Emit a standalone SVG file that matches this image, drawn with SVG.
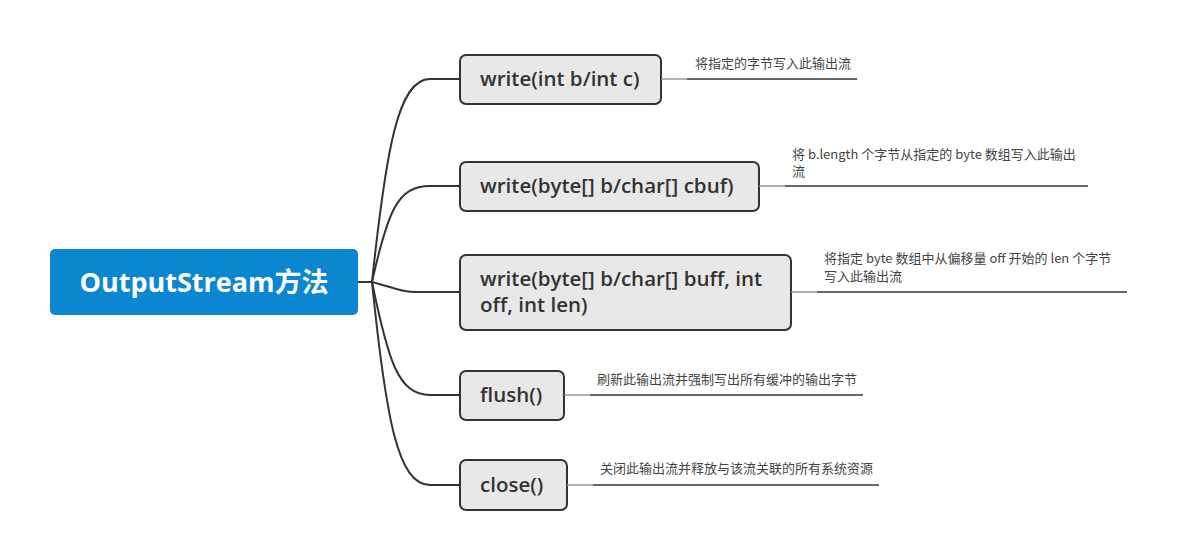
<svg xmlns="http://www.w3.org/2000/svg" width="1177" height="560" viewBox="0 0 1177 560">
<style>
.node rect{fill:#e8e8e8;stroke:#333;stroke-width:2}
.nt{font-family:"Open Sans","Noto Sans CJK SC",sans-serif;font-size:20.5px;font-weight:600;fill:#333}
.note{font-family:"Noto Sans CJK SC","Noto Sans",sans-serif;font-size:13px;fill:#444}
.conn{fill:none;stroke:#333;stroke-width:2}
.nl{fill:none;stroke:#333;stroke-width:1.3}
.nl0{fill:none;stroke:#888;stroke-width:1.3}
</style>
<rect width="1177" height="560" fill="#fff"/>
<g id="connectors">
<path class="conn" d="M358,282 L372,282"/>
<path class="conn" d="M372,282 C386,150 398,79 430,79 L460,79"/>
<path class="conn" d="M372,282 C388,210 398,186 430,186 L460,186"/>
<path class="conn" d="M372,282 C392,287 400,292 418,292 L460,292"/>
<path class="conn" d="M372,282 C388,360 398,395 430,395 L460,395"/>
<path class="conn" d="M372,282 C386,420 398,485 430,485 L460,485"/>
</g>
<g id="root">
<rect x="50" y="249" width="308" height="66" rx="5" fill="#0a87d0"/>
<text x="204" y="292" text-anchor="middle" font-family="'Open Sans','Noto Sans CJK SC',sans-serif" font-size="27" font-weight="bold" fill="#fff">OutputStream方法</text>
</g>
<g id="n1" class="node">
<rect x="460" y="55" width="201" height="49" rx="6"/>
<text class="nt" x="480" y="86">write(int b/int c)</text>
<path class="nl0" d="M661,79 L687,79"/><path class="nl" d="M687,79 L857,79"/>
<text class="note" x="695" y="68">将指定的字节写入此输出流</text>
</g>
<g id="n2" class="node">
<rect x="460" y="162" width="299" height="49" rx="6"/>
<text class="nt" x="480" y="193">write(byte[] b/char[] cbuf)</text>
<path class="nl0" d="M759,186 L785,186"/><path class="nl" d="M785,186 L1088,186"/>
<text class="note" x="792" y="159">将 b.length 个字节从指定的 byte 数组写入此输出</text>
<text class="note" x="792" y="176">流</text>
</g>
<g id="n3" class="node">
<rect x="460" y="255" width="331" height="75" rx="6"/>
<text class="nt" x="480" y="286">write(byte[] b/char[] buff, int</text>
<text class="nt" x="480" y="312">off, int len)</text>
<path class="nl0" d="M791,292 L817,292"/><path class="nl" d="M817,292 L1127,292"/>
<text class="note" x="824" y="263">将指定 byte 数组中从偏移量 off 开始的 len 个字节</text>
<text class="note" x="824" y="281">写入此输出流</text>
</g>
<g id="n4" class="node">
<rect x="460" y="371" width="104" height="49" rx="6"/>
<text class="nt" x="480" y="402">flush()</text>
<path class="nl0" d="M564,395 L590,395"/><path class="nl" d="M590,395 L863,395"/>
<text class="note" x="597" y="384">刷新此输出流并强制写出所有缓冲的输出字节</text>
</g>
<g id="n5" class="node">
<rect x="460" y="460" width="107" height="50" rx="6"/>
<text class="nt" x="480" y="492">close()</text>
<path class="nl0" d="M567,485 L593,485"/><path class="nl" d="M593,485 L879,485"/>
<text class="note" x="600" y="473">关闭此输出流并释放与该流关联的所有系统资源</text>
</g>
</svg>
